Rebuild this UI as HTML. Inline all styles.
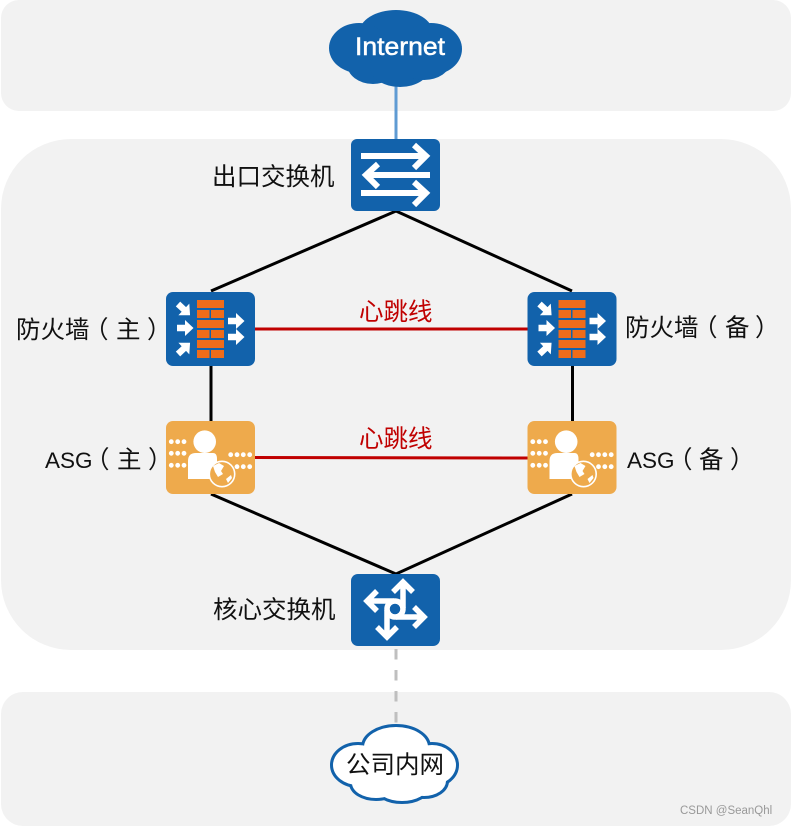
<!DOCTYPE html>
<html><head><meta charset="utf-8"><style>
html,body{margin:0;padding:0;background:#fff;width:791px;height:826px;overflow:hidden}
svg{display:block}
text{font-family:"Liberation Sans","Noto Sans CJK SC",sans-serif;fill:#111;font-size:24.5px}
</style></head><body>
<svg width="791" height="826" viewBox="0 0 791 826" xmlns="http://www.w3.org/2000/svg">
<defs>
<path id="ar" d="M0,-3.200 H8 V-8 L16.500,0 L8,8 V3.200 H0Z" fill="#fff"/>
<g id="fw">
<rect width="89" height="74" rx="7" fill="#1262ab"/>
<g fill="#ef6c1a">
<rect x="31" y="8" width="27" height="8"/>
<rect x="31" y="18" width="12.5" height="8"/><rect x="45" y="18" width="13" height="8"/>
<rect x="31" y="28" width="27" height="8"/>
<rect x="31" y="38" width="12.5" height="8"/><rect x="45" y="38" width="13" height="8"/>
<rect x="31" y="48" width="27" height="8"/>
<rect x="31" y="58" width="12.5" height="8"/><rect x="45" y="58" width="13" height="8"/>
</g>
<use href="#ar" transform="translate(12,12) rotate(43)"/>
<use href="#ar" transform="translate(11,36)"/>
<use href="#ar" transform="translate(12,62) rotate(-43)"/>
<use href="#ar" transform="translate(62,29)"/>
<use href="#ar" transform="translate(62,45)"/>
</g>
<g id="asg">
<rect width="89" height="73" rx="7" fill="#eeaa4c"/>
<circle cx="38.7" cy="20.7" r="11.3" fill="#fff"/>
<path d="M22,58 V40 Q22,32 30,32 H47 Q51,32 51,38 V58Z" fill="#fff"/>
<g fill="#fff">
<circle cx="5.3" cy="20.7" r="2.4"/><circle cx="11.7" cy="20.7" r="2.4"/><circle cx="18" cy="20.7" r="2.4"/>
<circle cx="5.3" cy="32.3" r="2.4"/><circle cx="11.7" cy="32.3" r="2.4"/><circle cx="18" cy="32.3" r="2.4"/>
<circle cx="5.3" cy="44.3" r="2.4"/><circle cx="11.7" cy="44.3" r="2.4"/><circle cx="18" cy="44.3" r="2.4"/>
<circle cx="64.7" cy="33.7" r="2.4"/><circle cx="71" cy="33.7" r="2.4"/><circle cx="77.3" cy="33.7" r="2.4"/><circle cx="83.7" cy="33.7" r="2.4"/>
<circle cx="71" cy="45.7" r="2.4"/><circle cx="77.3" cy="45.7" r="2.4"/><circle cx="83.7" cy="45.7" r="2.4"/>
</g>
<circle cx="56" cy="53" r="12.7" fill="#eeaa4c" stroke="#fff" stroke-width="1.6"/>
<path d="M47,45 L53,42 L58,45 L55,50 L57,53 L52,56 L49,51Z M60,58 L65,54 L66,57 L62,62Z" fill="#fff"/>
</g>
</defs>

<rect x="1" y="0" width="790" height="111" rx="18" fill="#f2f2f2"/>
<rect x="1" y="139" width="790" height="511" rx="70" fill="#f2f2f2"/>
<rect x="1" y="692" width="790" height="134" rx="22" fill="#f2f2f2"/>

<line x1="396" y1="85" x2="396" y2="139" stroke="#5f9bd3" stroke-width="3"/>
<line x1="396" y1="649" x2="396" y2="726" stroke="#bfbfbf" stroke-width="3" stroke-dasharray="10.5 10.5"/>

<g stroke="#000" stroke-width="3" fill="none">
<path d="M211,291 L396,211 L572,291"/>
<line x1="211" y1="366" x2="211" y2="421"/>
<line x1="572.500" y1="366" x2="572.500" y2="421"/>
<path d="M211,494 L396,574 L572,494"/>
</g>
<line x1="255" y1="329" x2="528" y2="329" stroke="#c00000" stroke-width="3"/>
<line x1="255" y1="457.500" x2="528" y2="458" stroke="#c00000" stroke-width="3"/>

<g fill="#1262ab">
<ellipse cx="396" cy="33" rx="37" ry="23"/>
<ellipse cx="359" cy="48" rx="30" ry="25"/>
<ellipse cx="431" cy="49" rx="31" ry="26"/>
<ellipse cx="373" cy="64" rx="26" ry="20"/>
<ellipse cx="400" cy="67" rx="30" ry="20"/>
<ellipse cx="424" cy="62" rx="26" ry="18"/>
</g>
<text x="355" y="55" textLength="90" lengthAdjust="spacingAndGlyphs" style="fill:#fff;stroke:#fff;stroke-width:0.5px;font-size:25px">Internet</text>

<rect x="351" y="139" width="89" height="72" rx="6" fill="#1262ab"/>
<g fill="none" stroke="#fff" stroke-width="6">
<path d="M361,156 H426 M414,145 L426,156 L414,168"/>
<path d="M430,175 H366 M378,164 L366,175 L378,187"/>
<path d="M361,193 H426 M414,182 L426,193 L414,205"/>
</g>

<use href="#fw" x="166" y="292"/>
<use href="#fw" x="527.500" y="292"/>
<use href="#asg" x="166" y="421"/>
<use href="#asg" x="527.500" y="421"/>

<rect x="351" y="574" width="89" height="72" rx="7" fill="#1262ab"/>
<g fill="none" stroke="#fff" stroke-width="5.500">
<circle cx="395" cy="609" r="8"/>
<path d="M403,582 V608 M393,592 L403,582 L413,592"/>
<path d="M424,617 H396 M414,607 L424,617 L414,627"/>
<path d="M387,637 V610 M377,627 L387,637 L397,627"/>
<path d="M367,601 H394 M377,591 L367,601 L377,611"/>
</g>

<g fill="#1262ab" stroke="#1262ab" stroke-width="6">
<ellipse cx="396" cy="747" rx="32" ry="20"/>
<ellipse cx="358" cy="765" rx="25" ry="20"/>
<ellipse cx="432" cy="765" rx="24" ry="20"/>
<ellipse cx="376" cy="783" rx="24" ry="15"/>
<ellipse cx="402" cy="786" rx="26" ry="15"/>
<ellipse cx="424" cy="781" rx="22" ry="15"/>
</g>
<g fill="#fff">
<ellipse cx="396" cy="747" rx="32" ry="20"/>
<ellipse cx="358" cy="765" rx="25" ry="20"/>
<ellipse cx="432" cy="765" rx="24" ry="20"/>
<ellipse cx="376" cy="783" rx="24" ry="15"/>
<ellipse cx="402" cy="786" rx="26" ry="15"/>
<ellipse cx="424" cy="781" rx="22" ry="15"/>
<rect x="350" y="750" width="90" height="30"/>
</g>

<text x="212" y="185">出口交换机</text>
<text x="16" y="338">防火墙<tspan x="84">（</tspan><tspan x="116">主</tspan><tspan x="147">）</tspan></text>
<text x="625" y="336">防火墙<tspan x="693">（</tspan><tspan x="725">备</tspan><tspan x="755">）</tspan></text>
<text x="45" y="468" style="font-size:22.500px">ASG</text>
<text x="85" y="468">（<tspan x="117">主</tspan><tspan x="148">）</tspan></text>
<text x="627" y="468" style="font-size:22.500px">ASG</text>
<text x="668" y="468">（<tspan x="699">备</tspan><tspan x="730">）</tspan></text>
<text x="213" y="618">核心交换机</text>
<text x="346" y="773">公司内网</text>
<text x="359" y="320" style="fill:#c00000">心跳线</text>
<text x="359" y="447" style="fill:#c00000">心跳线</text>
<text x="680" y="814" style="fill:#999;font-size:11.500px">CSDN @SeanQhl</text>
</svg>
</body></html>
